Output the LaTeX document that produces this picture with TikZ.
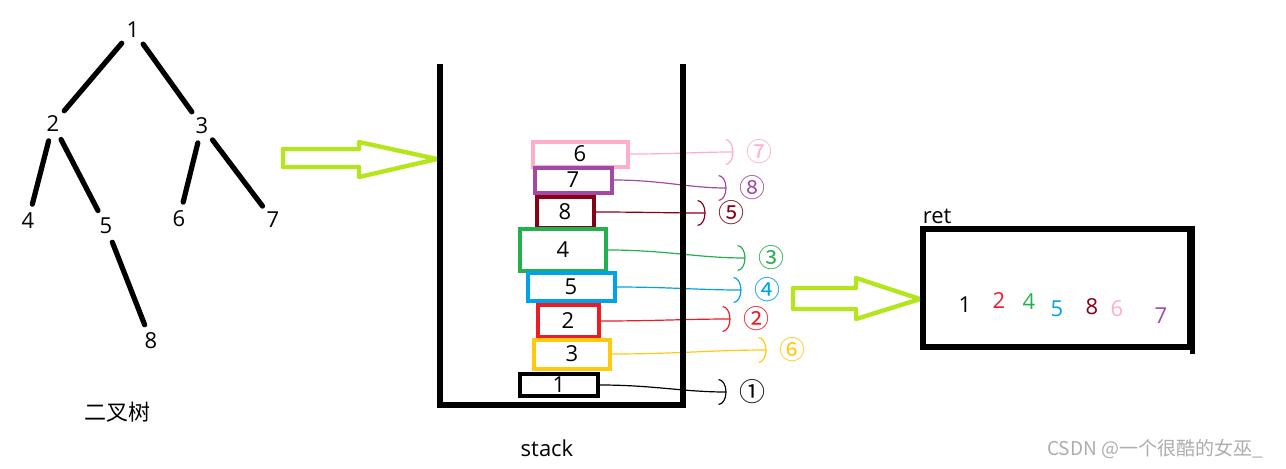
\documentclass[tikz,border=0pt]{standalone}
\usepackage{fontspec}
\setmainfont{Open Sans}
\newfontfamily\cjk{Noto Sans CJK SC}
\usepackage{tikz}
\usetikzlibrary{arrows.meta,positioning}
\definecolor{PaintLime}{HTML}{B5E61D}
\definecolor{PaintPink}{HTML}{FFAEC9}
\definecolor{PaintPurple}{HTML}{A349A4}
\definecolor{PaintMaroon}{HTML}{880015}
\definecolor{PaintGreen}{HTML}{22B14C}
\definecolor{PaintBlue}{HTML}{00A2E8}
\definecolor{PaintRed}{HTML}{ED1C24}
\definecolor{PaintYellow}{HTML}{FFC90E}

\begin{document}
\begin{tikzpicture}[x=0.5pt,y=-0.5pt,font=\fontsize{11}{13}\selectfont,
  tnode/.style={circle,inner sep=0pt,minimum size=17pt},
  tedge/.style={line width=2.6pt,line cap=round},
  sbox/.style={draw,rectangle,line width=2pt,inner sep=0pt},
  link/.style={line width=0.6pt,-{Arc Barb[width=13pt,length=4pt]},shorten >=5pt},
  cnum/.style={font=\cjk\fontsize{13}{15}\selectfont,inner sep=1pt},
  wall/.style={line width=2.6pt},
  bigarrow/.style={draw=PaintLime,line width=2.2pt,line join=round}]
  \useasboundingbox (0,0) rectangle (1286,468);
  % Binary tree
  \node[tnode] (t1) at (133,30) {1};
  \node[tnode] (t2) at (53,124) {2};
  \node[tnode] (t3) at (202,126) {3};
  \node[tnode] (t4) at (28,221) {4};
  \node[tnode] (t5) at (106,226) {5};
  \node[tnode] (t6) at (179,219) {6};
  \node[tnode] (t7) at (273,220) {7};
  \node[tnode] (t8) at (151,341) {8};
  \draw[tedge] (t1) -- (t2);
  \draw[tedge] (t1) -- (t3);
  \draw[tedge] (t2) -- (t4);
  \draw[tedge] (t2) -- (t5);
  \draw[tedge] (t3) -- (t6);
  \draw[tedge] (t3) -- (t7);
  \draw[tedge] (t5) -- (t8);
  \node[font=\cjk\fontsize{11}{13}\selectfont] (tname) at (117,412) {二叉树};
  % Arrow into the stack
  \draw[bigarrow] (283,149) -- (359,149) -- (359,142) -- (437,159)
    -- (359,177) -- (359,167) -- (283,167) -- cycle;
  % Stack contents
  \node[sbox,draw=PaintPink,minimum width=47.5pt,minimum height=12.5pt] (b6) at (580,154) {\raisebox{-2pt}{6}};
  \node[sbox,draw=PaintPurple,minimum width=38.5pt,minimum height=12.5pt] (b7) at (573,180) {7};
  \node[sbox,draw=PaintMaroon,minimum width=28.5pt,minimum height=15.5pt] (b8) at (565,212) {8};
  \node[sbox,draw=PaintGreen,minimum width=43pt,minimum height=21pt] (b4) at (563,250) {\raisebox{-3pt}{4}};
  \node[sbox,draw=PaintBlue,minimum width=43.5pt,minimum height=14pt] (b5) at (571,287) {5};
  \node[sbox,draw=PaintRed,minimum width=30.5pt,minimum height=16pt] (b2) at (568,321) {2};
  \node[sbox,draw=PaintYellow,minimum width=38pt,minimum height=14.5pt] (b3) at (572,354) {3};
  \node[sbox,draw=black,minimum width=39pt,minimum height=11pt] (b1) at (559,385) {\raisebox{-1.5pt}{1}};
  % Pop order
  \node[cnum,text=PaintPink] (c7) at (759,152) {⑦};
  \node[cnum,text=PaintPurple] (c8) at (752,188) {⑧};
  \node[cnum,text=PaintMaroon] (c5) at (731,213) {⑤};
  \node[cnum,text=PaintGreen] (c3) at (771,258) {③};
  \node[cnum,text=PaintBlue] (c4) at (767,290) {④};
  \node[cnum,text=PaintRed] (c2) at (756,319) {②};
  \node[cnum,text=PaintYellow] (c6) at (792,350) {⑥};
  \node[cnum] (c1) at (752,392) {①};
  \draw[link,PaintPink] (b6.east) to[out=0,in=180] (c7.west);
  \draw[link,PaintPurple] (b7.east) to[out=0,in=180] (c8.west);
  \draw[link,PaintMaroon] (b8.east) to[out=0,in=180] (c5.west);
  \draw[link,PaintGreen] (b4.east) to[out=0,in=180] (c3.west);
  \draw[link,PaintBlue] (b5.east) to[out=0,in=180] (c4.west);
  \draw[link,PaintRed] (b2.east) to[out=0,in=180] (c2.west);
  \draw[link,PaintYellow] (b3.east) to[out=0,in=180] (c6.west);
  \draw[link] (b1.east) to[out=0,in=180] (c1.west);
  % Stack walls
  \draw[wall] (440,64) -- (440,405) -- (683,405) -- (683,64);
  \node (stk) at (547,448) {stack};
  % Arrow to ret
  \draw[bigarrow] (793,288) -- (856,288) -- (856,278) -- (920,299)
    -- (856,319) -- (856,309) -- (793,309) -- cycle;
  % Result
  \node[draw,wall,minimum width=133.5pt,minimum height=59pt,
    label={[anchor=south west,inner sep=1pt]north west:ret}] (ret) at (1056.5,288) {};
  \draw[wall] (ret.north east) -- ++(0,128);
  \node (r1) at (965,305) {1};
  \node[text=PaintRed] (r2) at (999,301) {2};
  \node[text=PaintGreen] (r4) at (1029,302) {4};
  \node[text=PaintBlue] (r5) at (1057,309) {5};
  \node[text=PaintMaroon] (r8) at (1092,307) {8};
  \node[text=PaintPink] (r6) at (1117,309) {6};
  \node[text=PaintPurple] (r7) at (1161,316) {7};
  \node[font=\cjk\fontsize{9.5}{11}\selectfont,text=black!32,anchor=east] (mark) at (1270,449) {CSDN @一个很酷的女巫\_};
\end{tikzpicture}
\end{document}
